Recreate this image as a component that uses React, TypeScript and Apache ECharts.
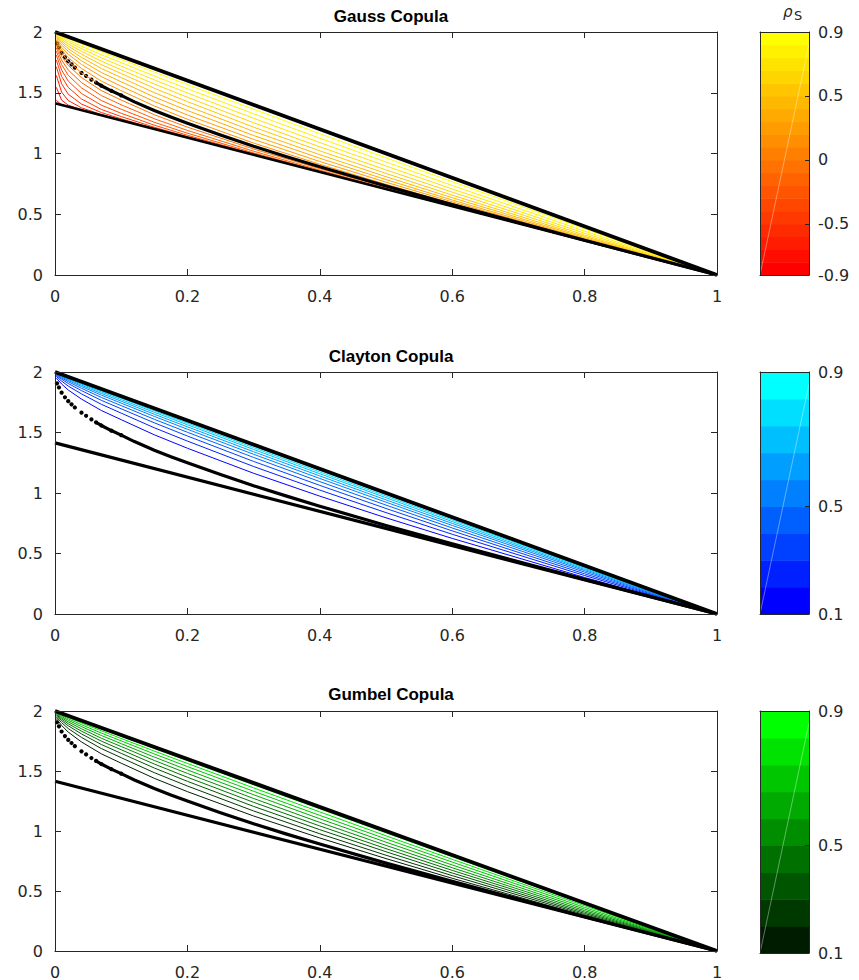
import React, { useEffect, useRef } from 'react';
import * as echarts from 'echarts';

// ---------- data ----------
const X_GRID = [0.002, 0.01, 0.02, 0.04, 0.07, 0.1, 0.15, 0.2, 0.3, 0.4, 0.5, 0.6, 0.8, 1];

const GAUSS_RHO = [-0.9, -0.8, -0.7, -0.6, -0.5, -0.4, -0.3, -0.2, -0.1, 0, 0.1, 0.2, 0.3, 0.4, 0.5, 0.6, 0.7, 0.8, 0.9];
const GAUSS_Y = [
  [1.437, 1.402, 1.386, 1.358, 1.315, 1.273, 1.202, 1.131, 0.990, 0.849, 0.707, 0.566, 0.283, 0],
  [1.545, 1.439, 1.398, 1.360, 1.316, 1.273, 1.202, 1.131, 0.990, 0.849, 0.707, 0.566, 0.283, 0],
  [1.643, 1.505, 1.436, 1.376, 1.321, 1.275, 1.203, 1.132, 0.990, 0.849, 0.707, 0.566, 0.283, 0],
  [1.715, 1.574, 1.488, 1.407, 1.337, 1.285, 1.206, 1.133, 0.990, 0.849, 0.707, 0.566, 0.283, 0],
  [1.769, 1.635, 1.544, 1.449, 1.363, 1.304, 1.216, 1.139, 0.992, 0.849, 0.707, 0.566, 0.283, 0],
  [1.810, 1.687, 1.596, 1.494, 1.398, 1.331, 1.233, 1.150, 0.997, 0.851, 0.708, 0.566, 0.283, 0],
  [1.842, 1.732, 1.644, 1.540, 1.436, 1.364, 1.257, 1.167, 1.005, 0.855, 0.710, 0.567, 0.283, 0],
  [1.868, 1.769, 1.687, 1.584, 1.477, 1.401, 1.286, 1.190, 1.019, 0.863, 0.714, 0.569, 0.283, 0],
  [1.889, 1.801, 1.725, 1.625, 1.518, 1.440, 1.319, 1.217, 1.037, 0.875, 0.722, 0.573, 0.284, 0],
  [1.906, 1.829, 1.759, 1.664, 1.558, 1.478, 1.354, 1.249, 1.060, 0.891, 0.732, 0.580, 0.286, 0],
  [1.921, 1.853, 1.789, 1.700, 1.596, 1.517, 1.391, 1.282, 1.086, 0.911, 0.746, 0.589, 0.289, 0],
  [1.934, 1.874, 1.817, 1.733, 1.633, 1.554, 1.428, 1.317, 1.116, 0.934, 0.764, 0.602, 0.293, 0],
  [1.945, 1.893, 1.841, 1.763, 1.667, 1.590, 1.465, 1.354, 1.148, 0.961, 0.785, 0.617, 0.299, 0],
  [1.955, 1.910, 1.863, 1.791, 1.700, 1.625, 1.501, 1.390, 1.182, 0.990, 0.809, 0.636, 0.307, 0],
  [1.963, 1.925, 1.883, 1.817, 1.731, 1.658, 1.537, 1.427, 1.217, 1.022, 0.836, 0.657, 0.317, 0],
  [1.971, 1.938, 1.901, 1.841, 1.760, 1.689, 1.572, 1.463, 1.253, 1.055, 0.865, 0.682, 0.329, 0],
  [1.977, 1.950, 1.918, 1.863, 1.787, 1.719, 1.606, 1.498, 1.290, 1.090, 0.897, 0.708, 0.344, 0],
  [1.984, 1.961, 1.933, 1.883, 1.813, 1.748, 1.638, 1.533, 1.327, 1.126, 0.930, 0.737, 0.361, 0],
  [1.989, 1.971, 1.947, 1.902, 1.837, 1.774, 1.670, 1.567, 1.364, 1.163, 0.964, 0.768, 0.379, 0],
];

const ARCH_RHO = [0.1, 0.2, 0.3, 0.4, 0.5, 0.6, 0.7, 0.8, 0.9];
const CLAYTON_Y = [
  [1.950, 1.901, 1.851, 1.776, 1.682, 1.606, 1.481, 1.370, 1.163, 0.974, 0.795, 0.625, 0.302, 0],
  [1.964, 1.925, 1.884, 1.819, 1.733, 1.660, 1.539, 1.429, 1.219, 1.024, 0.838, 0.659, 0.318, 0],
  [1.972, 1.941, 1.905, 1.846, 1.766, 1.696, 1.580, 1.471, 1.261, 1.063, 0.872, 0.687, 0.332, 0],
  [1.978, 1.951, 1.920, 1.865, 1.790, 1.722, 1.609, 1.502, 1.294, 1.094, 0.900, 0.711, 0.346, 0],
  [1.983, 1.959, 1.931, 1.880, 1.809, 1.743, 1.633, 1.527, 1.320, 1.120, 0.924, 0.732, 0.358, 0],
  [1.986, 1.965, 1.939, 1.891, 1.823, 1.759, 1.651, 1.547, 1.341, 1.141, 0.943, 0.749, 0.368, 0],
  [1.988, 1.970, 1.946, 1.900, 1.835, 1.772, 1.667, 1.564, 1.360, 1.159, 0.961, 0.764, 0.377, 0],
  [1.991, 1.974, 1.951, 1.908, 1.844, 1.783, 1.679, 1.577, 1.375, 1.174, 0.975, 0.777, 0.385, 0],
  [1.993, 1.977, 1.956, 1.915, 1.853, 1.793, 1.691, 1.590, 1.389, 1.189, 0.990, 0.790, 0.394, 0],
];
const GUMBEL_Y = [
  [1.937, 1.880, 1.824, 1.742, 1.643, 1.565, 1.439, 1.328, 1.125, 0.942, 0.770, 0.606, 0.294, 0],
  [1.951, 1.903, 1.854, 1.780, 1.687, 1.611, 1.486, 1.375, 1.167, 0.977, 0.798, 0.628, 0.303, 0],
  [1.960, 1.920, 1.877, 1.809, 1.721, 1.647, 1.525, 1.414, 1.205, 1.011, 0.827, 0.650, 0.313, 0],
  [1.968, 1.933, 1.894, 1.832, 1.749, 1.677, 1.558, 1.448, 1.239, 1.042, 0.853, 0.672, 0.324, 0],
  [1.974, 1.944, 1.909, 1.852, 1.773, 1.704, 1.588, 1.480, 1.271, 1.072, 0.880, 0.694, 0.336, 0],
  [1.979, 1.954, 1.923, 1.870, 1.796, 1.728, 1.616, 1.509, 1.302, 1.102, 0.907, 0.717, 0.349, 0],
  [1.984, 1.962, 1.935, 1.886, 1.816, 1.751, 1.642, 1.537, 1.331, 1.130, 0.934, 0.741, 0.363, 0],
  [1.988, 1.970, 1.946, 1.900, 1.835, 1.771, 1.666, 1.563, 1.359, 1.159, 0.960, 0.764, 0.377, 0],
  [1.992, 1.976, 1.955, 1.913, 1.851, 1.790, 1.688, 1.586, 1.385, 1.185, 0.985, 0.786, 0.391, 0],
];

// independence curve (black dots)
const INDEP_X = [0.003, 0.006, 0.01, 0.015, 0.02, 0.025, 0.03, 0.04, 0.047, 0.055, 0.062, 0.07, 0.085, 0.1, 0.12, 0.15, 0.175, 0.2, 0.25, 0.3, 0.35, 0.4, 0.5, 0.6, 0.8, 1];
const INDEP_Y = [1.906, 1.872, 1.829, 1.791, 1.759, 1.733, 1.707, 1.664, 1.638, 1.608, 1.584, 1.558, 1.516, 1.478, 1.425, 1.354, 1.300, 1.249, 1.153, 1.060, 0.974, 0.891, 0.732, 0.580, 0.286, 0];

// bounds (black straight lines)
const BOUND_X = [0, 1];
const UPPER_Y = [2, 0];
const LOWER_Y = [1.414, 0];

// colorbar ticks
const GAUSS_CB_TICKS = [-0.9, -0.5, 0, 0.5, 1.0];
const GAUSS_CB_LABELS = ['-0.9', '-0.5', '0', '0.5', '0.9'];
const ARCH_CB_TICKS = [0.1, 0.5, 1.0];
const ARCH_CB_LABELS = ['0.1', '0.5', '0.9'];

const TITLES = ['Gauss Copula', 'Clayton Copula', 'Gumbel Copula'];

// ---------- styling / layout ----------
const FONT = "'DejaVu Sans', sans-serif";
const TITLE_FONT = "'Liberation Sans', Arial, sans-serif";
const AXIS_COLOR = '#262626';
const PLOT_LEFT = 55;
const PLOT_W = 662;
const CB_LEFT = 760;
const CB_W = 49;
const PANELS = [
  { top: 32, h: 243, titleTop: 3 },
  { top: 372, h: 242, titleTop: 343 },
  { top: 711, h: 242, titleTop: 681 },
];

const gaussColors = GAUSS_RHO.map((_, i) => `rgb(255,${Math.round((255 * i) / 18)},0)`);
const claytonColors = ARCH_RHO.map((_, i) => `rgb(0,${Math.round((255 * i) / 8)},255)`);
const gumbelColors = ARCH_RHO.map((_, i) => `rgb(0,${Math.round((255 * (i + 1)) / 9)},0)`);

function pairs(xs: number[], ys: number[]) {
  return xs.map((x, i) => [x, ys[i]]);
}

function buildOption() {
  const grid: any[] = [];
  const xAxis: any[] = [];
  const yAxis: any[] = [];
  const series: any[] = [];
  const title: any[] = [];

  const lineStyle = { color: AXIS_COLOR, width: 1 };

  const families = [
    { rho: GAUSS_RHO, ys: GAUSS_Y, colors: gaussColors, ticks: GAUSS_CB_TICKS, labels: GAUSS_CB_LABELS, min: -0.9, max: 1.0 },
    { rho: ARCH_RHO, ys: CLAYTON_Y, colors: claytonColors, ticks: ARCH_CB_TICKS, labels: ARCH_CB_LABELS, min: 0.1, max: 1.0 },
    { rho: ARCH_RHO, ys: GUMBEL_Y, colors: gumbelColors, ticks: ARCH_CB_TICKS, labels: ARCH_CB_LABELS, min: 0.1, max: 1.0 },
  ];

  PANELS.forEach((p, pi) => {
    const fam = families[pi];
    const g = pi * 2;
    grid.push({ left: PLOT_LEFT, top: p.top, width: PLOT_W, height: p.h });
    grid.push({ left: CB_LEFT, top: p.top, width: CB_W, height: p.h });
    const a = pi * 4;

    // main axes
    xAxis.push({
      type: 'value', gridIndex: g, min: 0, max: 1, interval: 0.2, position: 'bottom', z: 5,
      axisLine: { show: true, onZero: false, lineStyle },
      axisTick: { show: true, inside: true, length: 6, lineStyle },
      axisLabel: { fontFamily: FONT, fontSize: 16, color: AXIS_COLOR, margin: 13 },
      splitLine: { show: false },
    });
    xAxis.push({
      type: 'value', gridIndex: g, min: 0, max: 1, interval: 0.2, position: 'top', z: 5,
      axisLine: { show: true, onZero: false, lineStyle },
      axisTick: { show: true, inside: true, length: 6, lineStyle },
      axisLabel: { show: false },
      splitLine: { show: false },
    });
    // colorbar x axes
    xAxis.push({
      type: 'value', gridIndex: g + 1, min: 0, max: 1, position: 'bottom', z: 5,
      axisLine: { show: true, onZero: false, lineStyle },
      axisTick: { show: false }, axisLabel: { show: false }, splitLine: { show: false },
    });
    xAxis.push({
      type: 'value', gridIndex: g + 1, min: 0, max: 1, position: 'top', z: 5,
      axisLine: { show: true, onZero: false, lineStyle },
      axisTick: { show: false }, axisLabel: { show: false }, splitLine: { show: false },
    });

    yAxis.push({
      type: 'value', gridIndex: g, min: 0, max: 2, interval: 0.5, position: 'left', z: 5,
      axisLine: { show: true, onZero: false, lineStyle },
      axisTick: { show: true, inside: true, length: 6, lineStyle },
      axisLabel: { fontFamily: FONT, fontSize: 16, color: AXIS_COLOR, margin: 12 },
      splitLine: { show: false },
    });
    yAxis.push({
      type: 'value', gridIndex: g, min: 0, max: 2, interval: 0.5, position: 'right', z: 5,
      axisLine: { show: true, onZero: false, lineStyle },
      axisTick: { show: true, inside: true, length: 6, lineStyle },
      axisLabel: { show: false },
      splitLine: { show: false },
    });
    yAxis.push({
      type: 'value', gridIndex: g + 1, min: fam.min, max: fam.max, position: 'left', z: 5,
      axisLine: { show: true, onZero: false, lineStyle },
      axisTick: { show: false }, axisLabel: { show: false }, splitLine: { show: false },
    });
    yAxis.push({
      type: 'value', gridIndex: g + 1, min: fam.min, max: fam.max, position: 'right', z: 5,
      axisLine: { show: true, onZero: false, lineStyle },
      axisTick: { show: true, inside: true, length: 4, lineStyle, customValues: fam.ticks },
      axisLabel: {
        fontFamily: FONT, fontSize: 16, color: AXIS_COLOR, margin: 9,
        customValues: fam.ticks,
        formatter: (v: number) => {
          const k = fam.ticks.findIndex((t) => Math.abs(t - v) < 1e-6);
          return k >= 0 ? fam.labels[k] : '';
        },
      },
      splitLine: { show: false },
    });

    // family curves
    fam.rho.forEach((r, i) => {
      series.push({
        type: 'line', name: `${TITLES[pi]} rho=${r}`, xAxisIndex: a, yAxisIndex: a,
        data: pairs(X_GRID, fam.ys[i]), symbol: 'none', silent: true,
        lineStyle: { color: fam.colors[i], width: 1 },
      });
    });

    // bounds
    series.push({
      type: 'line', xAxisIndex: a, yAxisIndex: a, data: pairs(BOUND_X, LOWER_Y),
      symbol: 'none', silent: true, lineStyle: { color: '#000', width: pi === 0 ? 2.5 : 3.2 },
    });
    series.push({
      type: 'line', xAxisIndex: a, yAxisIndex: a, data: pairs(BOUND_X, UPPER_Y),
      symbol: 'none', silent: true, lineStyle: { color: '#000', width: 3.8 },
    });

    // independence dotted curve
    const indep = pairs(INDEP_X, INDEP_Y);
    series.push({
      type: 'line', xAxisIndex: a, yAxisIndex: a, data: indep.filter((d) => d[0] >= 0.062),
      symbol: 'none', silent: true,
      lineStyle: { color: '#000', width: 3.2, join: 'round' },
    });
    series.push({
      type: 'scatter', xAxisIndex: a, yAxisIndex: a, data: indep.filter((d) => d[0] <= 0.1),
      symbol: 'circle', symbolSize: 4.2, silent: true, itemStyle: { color: '#000', opacity: 1 },
    });

    // colorbar bands
    const bands = fam.rho.map((r) => [0, r, Math.round((r + 0.1) * 10) / 10]);
    const cols = fam.colors;
    series.push({
      type: 'custom', xAxisIndex: a + 2, yAxisIndex: a + 2, silent: true, z: 1,
      encode: { x: 0, y: [1, 2] },
      data: bands,
      renderItem: (params: any, api: any) => {
        const lo = api.value(1);
        const hi = api.value(2);
        const p0 = api.coord([0, lo]);
        const p1 = api.coord([1, hi]);
        return {
          type: 'rect',
          shape: { x: p0[0], y: p1[1], width: p1[0] - p0[0], height: p0[1] - p1[1] + 0.6 },
          style: { fill: cols[params.dataIndex], stroke: null },
        };
      },
    });
    series.push({
      type: 'line', xAxisIndex: a + 2, yAxisIndex: a + 2, silent: true, z: 2, symbol: 'none',
      data: [[0, fam.min], [1, fam.max - (fam.max - fam.min) * 0.05]],
      lineStyle: { color: 'rgba(255,255,255,0.55)', width: 0.7 },
    });

    title.push({
      text: TITLES[pi], left: PLOT_LEFT + PLOT_W / 2, top: p.titleTop, textAlign: 'center',
      textStyle: { fontFamily: TITLE_FONT, fontWeight: 'bold', fontSize: 17, color: '#000' },
    });
  });

  return {
    animation: false,
    backgroundColor: '#ffffff',
    title,
    grid,
    xAxis,
    yAxis,
    series,
    graphic: [
      { type: 'text', x: 783, y: 4, style: { text: 'ρ', fontFamily: FONT, fontStyle: 'italic', fontSize: 15, fill: AXIS_COLOR } },
      { type: 'text', x: 794, y: 9, style: { text: 'S', fontFamily: FONT, fontSize: 13, fill: AXIS_COLOR } },
    ],
  };
}

export default function App() {
  const ref = useRef<HTMLDivElement>(null);
  useEffect(() => {
    if (!ref.current) return;
    const chart = echarts.init(ref.current, undefined, { renderer: 'svg' });
    chart.setOption(buildOption() as any);
    return () => chart.dispose();
  }, []);
  return (
    <div
      ref={ref}
      style={{ position: 'absolute', left: 0, top: 0, width: 859, height: 980, background: '#fff' }}
    />
  );
}
